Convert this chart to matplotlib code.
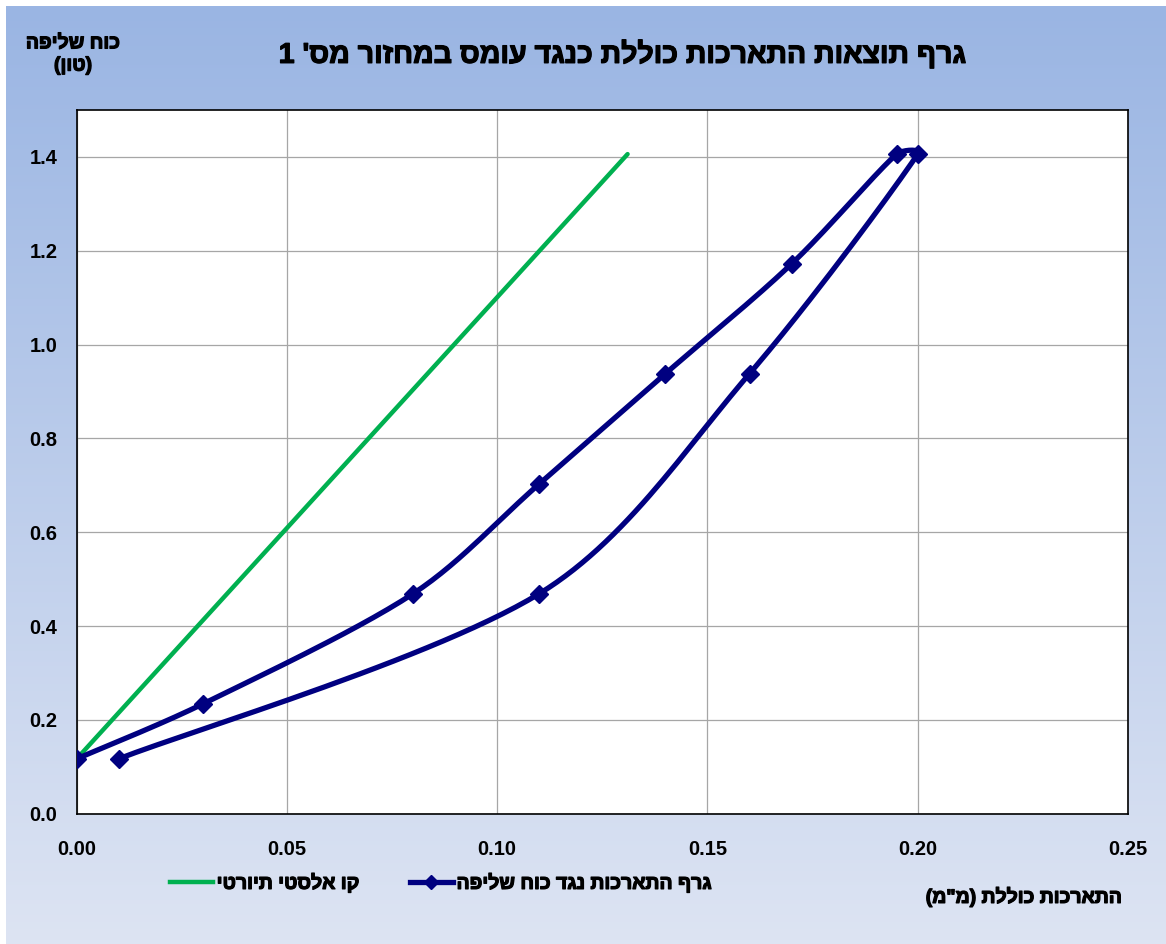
import matplotlib
matplotlib.use('Agg')
import matplotlib.pyplot as plt
import matplotlib.patheffects as pe
from matplotlib.lines import Line2D
import numpy as np

plt.rcParams['font.family'] = ['Liberation Sans', 'DejaVu Sans']
plt.rcParams['font.weight'] = 'bold'

# נתונים
elastic_x = [0.0, 0.131]
elastic_y = [0.117, 1.406]

pull_x = [0.0, 0.03, 0.08, 0.11, 0.14, 0.17, 0.195, 0.20, 0.16, 0.11, 0.01]
pull_y = [0.117, 0.234, 0.469, 0.703, 0.938, 1.172, 1.406, 1.406, 0.938, 0.469, 0.117]

x_ticks = [0.0, 0.05, 0.10, 0.15, 0.20, 0.25]
y_ticks = [0.0, 0.2, 0.4, 0.6, 0.8, 1.0, 1.2, 1.4]

title = "גרף תוצאות התארכות כוללת כנגד עומס במחזור מס' 1"
y_label = "כוח שליפה\n(טון)"
x_label = 'התארכות כוללת (מ"מ)'
legend_labels = ["קו אלסטי תיורטי", "גרף התארכות נגד כוח שליפה"]

# עיבוי קל לטקסט עברי
bold_fx = [pe.withStroke(linewidth=0.9, foreground='black')]


def heb(s):
    # matplotlib לא מטפל ב-RTL, הופכים ידנית
    lines = []
    for line in s.split('\n'):
        r = line[::-1]
        r = r.translate(str.maketrans('()', ')('))
        lines.append(r)
    return '\n'.join(lines)


def cap(v, limit):
    n = np.linalg.norm(v)
    if n > limit and n > 0:
        return v * limit / n
    return v


def smooth(ax, xs, ys, n=30):
    # בזייה בסגנון catmull-rom בקואורדינטות מסך (כמו קו מוחלק באקסל)
    pts = ax.transData.transform(np.column_stack([xs, ys]))
    p = np.vstack([pts[0], pts, pts[-1]])
    out = []
    t = np.linspace(0, 1, n)[:, None]
    for i in range(1, len(p) - 2):
        p0, p1, p2, p3 = p[i - 1], p[i], p[i + 1], p[i + 2]
        seg = np.linalg.norm(p2 - p1)
        c1 = p1 + cap((p2 - p0) / 6, seg / 3)
        c2 = p2 - cap((p3 - p1) / 6, seg / 3)
        b = ((1 - t) ** 3) * p1 + 3 * ((1 - t) ** 2) * t * c1 \
            + 3 * (1 - t) * t ** 2 * c2 + t ** 3 * p2
        out.append(b)
    curve = np.vstack(out)
    data = ax.transData.inverted().transform(curve)
    return data[:, 0], data[:, 1]


W, H = 1166, 944
fig = plt.figure(figsize=(W / 100, H / 100), dpi=100, facecolor='white')

# רקע מדורג
bg = fig.add_axes([6 / W, 0, 1 - 6 / W, 1 - 6 / H], zorder=-10)
top = np.array([154, 181, 227]) / 255
bottom = np.array([221, 228, 243]) / 255
grad = np.linspace(0, 1, 256)[:, None]
img = top[None, None, :] * (1 - grad[:, :, None]) + bottom[None, None, :] * grad[:, :, None]
bg.imshow(img, aspect='auto', extent=[0, 1, 0, 1])
bg.axis('off')

ax = fig.add_axes([76.7 / W, 1 - 813.7 / H, (1128 - 76.7) / W, (813.7 - 110) / H])
ax.set_facecolor('white')
ax.set_xlim(0, 0.25)
ax.set_ylim(0, 1.5)
ax.set_xticks(x_ticks)
ax.set_yticks(y_ticks)
ax.set_xticklabels(['%.2f' % v for v in x_ticks])
ax.set_yticklabels(['%.1f' % v for v in y_ticks])
ax.tick_params(length=0, labelsize=14.5)
ax.tick_params(axis='x', pad=19)
ax.tick_params(axis='y', pad=14)
ax.grid(True, color='#a6a6a6', linewidth=0.9)
ax.set_axisbelow(True)
for s in ax.spines.values():
    s.set_color('black')
    s.set_linewidth(1.2)

ax.plot(elastic_x, elastic_y, color='#00b050', linewidth=3.2,
        solid_capstyle='round', zorder=3)

sx, sy = smooth(ax, pull_x, pull_y)
ax.plot(sx, sy, color='#000080', linewidth=3.8, solid_capstyle='round',
        solid_joinstyle='round', zorder=4)
ax.plot(pull_x, pull_y, linestyle='none', marker='D', markersize=9.5,
        color='#000080', zorder=5)

fig.text(622 / W, 1 - 55 / H, heb(title), ha='center', va='center',
         fontsize=20.5, fontweight='bold', path_effects=bold_fx)
fig.text(73 / W, 1 - 55 / H, heb(y_label), ha='center', va='center',
         fontsize=14, fontweight='bold', linespacing=1.4, path_effects=bold_fx)
fig.text(1122 / W, 1 - 897 / H, heb(x_label), ha='right', va='center',
         fontsize=14, fontweight='bold', path_effects=bold_fx)

handles = [
    Line2D([], [], color='#00b050', linewidth=3.2),
    Line2D([], [], color='#000080', linewidth=3.8, marker='D', markersize=7),
]
leg = fig.legend(handles, [heb(l) for l in legend_labels], ncol=2, frameon=False,
                 loc='center left', bbox_to_anchor=(170 / W, 1 - 883 / H),
                 borderpad=0, borderaxespad=0, handlelength=2.2, handletextpad=0.2,
                 columnspacing=2.6, prop={'size': 14, 'weight': 'bold'})
for txt in leg.get_texts():
    txt.set_path_effects(bold_fx)

fig.savefig('out.png', dpi=100, facecolor='white')
